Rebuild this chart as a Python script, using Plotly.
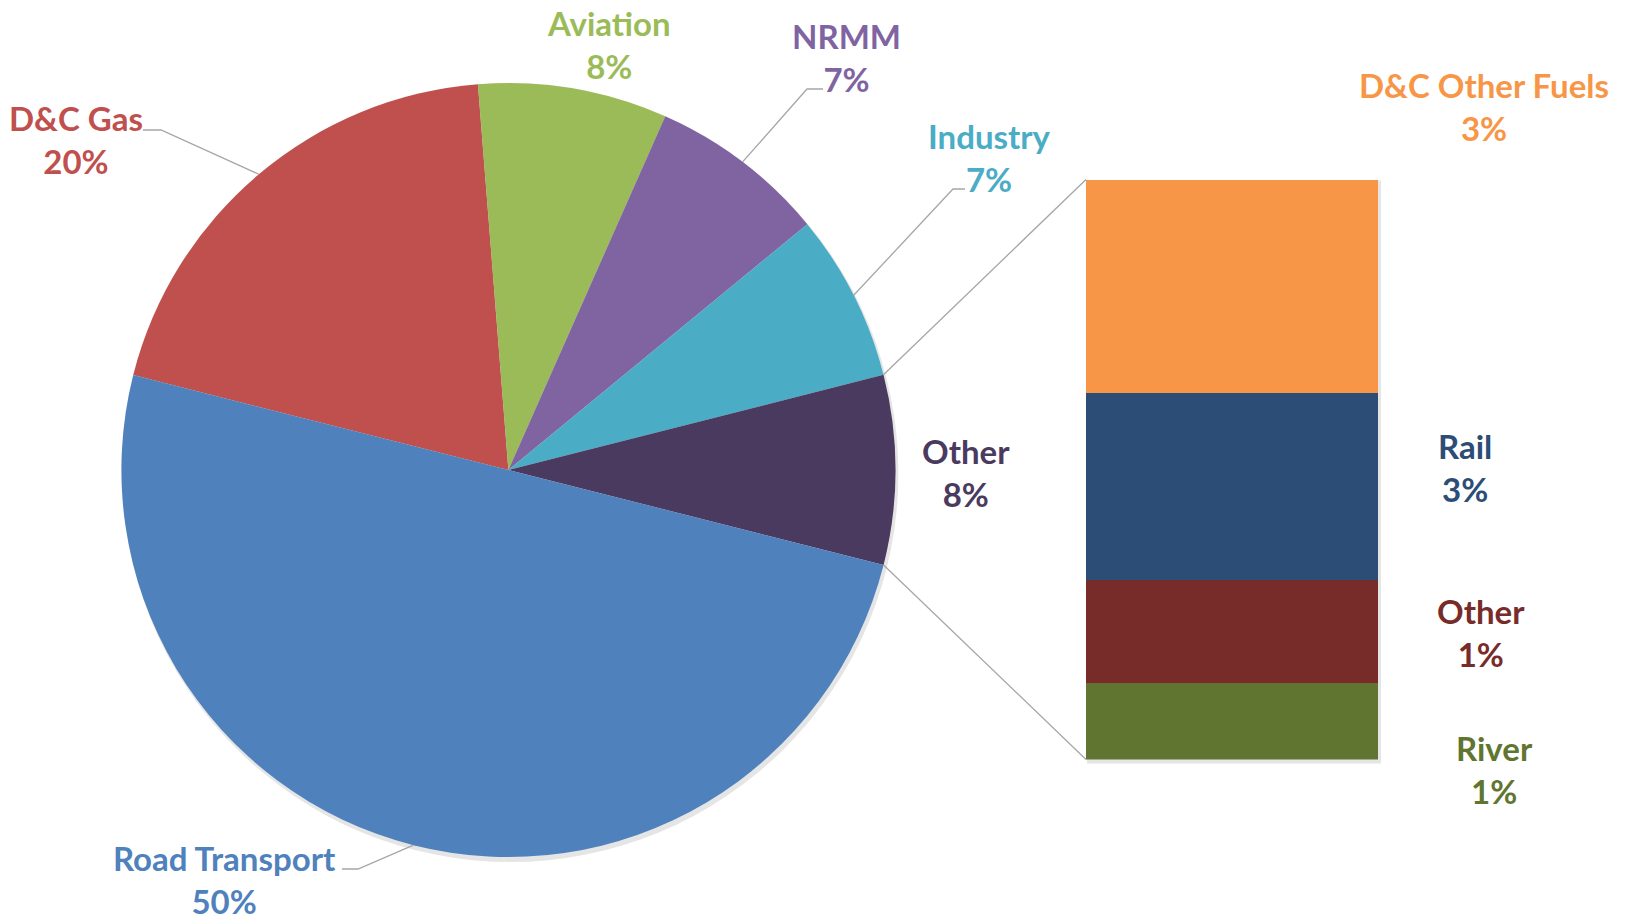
import math
import plotly.graph_objects as go

# ---------------- data ----------------
pie_labels = ["D&C Gas", "Aviation", "NRMM", "Industry", "Other", "Road Transport"]
pie_values = [19.8, 7.9, 7.4, 7.0, 7.9, 50.0]
pie_colors = ["#C0504D", "#9BBB59", "#8064A2", "#4BACC6", "#4B3A60", "#4F81BD"]

bar_labels = ["River", "Other", "Rail", "D&C Other Fuels"]          # bottom -> top
bar_values = [1.05, 1.4, 2.55, 2.9]
bar_colors = ["#5F7530", "#772C2A", "#2C4D75", "#F79646"]

# ---------------- layout constants (pixels) ----------------
W, H = 1627, 919
CX, CY, R = 508.4, 470.0, 387.0          # pie centre / radius
BX0, BX1, BY0, BY1 = 1086, 1378, 179.5, 759.5   # bar box
ROT = -75.8                              # start angle of first slice (clockwise from 12 o'clock)
FONT = "Lato"
FS = 33
LINE = "#A6A6A6"


def px(x):
    return x / W


def py(y):
    return 1 - y / H


total = sum(pie_values)
bar_total = sum(bar_values)


def pct(v, t):
    return f"{int(v / t * 100 + 0.5)}%"


def edge(angle_deg, r=R):
    a = math.radians(angle_deg)
    return CX + r * math.sin(a), CY - r * math.cos(a)


# cumulative angles of slices
starts, mids = [], []
acc = ROT
for v in pie_values:
    starts.append(acc)
    mids.append(acc + v / total * 180)
    acc += v / total * 360
ends = [s + v / total * 360 for s, v in zip(starts, pie_values)]

fig = go.Figure()

fig.add_trace(go.Pie(
    labels=pie_labels, values=pie_values, sort=False, direction="clockwise",
    rotation=ROT, marker=dict(colors=pie_colors, line=dict(width=0)),
    textinfo="none", hoverinfo="label+percent", showlegend=False,
    domain=dict(x=[px(CX - R), px(CX + R)], y=[py(CY + R), py(CY - R)]),
))

for lab, val, col in zip(bar_labels, bar_values, bar_colors):
    fig.add_trace(go.Bar(
        x=[0], y=[val], name=lab, marker=dict(color=col, line=dict(width=0)),
        width=1, showlegend=False, xaxis="x", yaxis="y",
    ))

shapes = []
# soft shadows
shapes.append(dict(type="circle", xref="paper", yref="paper",
                   x0=px(CX - R + 1), x1=px(CX + R + 3), y0=py(CY + R + 5), y1=py(CY - R + 2),
                   fillcolor="rgba(0,0,0,0.10)", line=dict(width=0), layer="below"))
shapes.append(dict(type="rect", xref="paper", yref="paper",
                   x0=px(BX0 + 1), x1=px(BX1 + 3), y0=py(BY1 + 4), y1=py(BY0 + 1),
                   fillcolor="rgba(0,0,0,0.10)", line=dict(width=0), layer="below"))

# connector lines from the "Other" slice to the bar
oi = pie_labels.index("Other")
p_top = edge(starts[oi])
p_bot = edge(ends[oi])
shapes.append(dict(type="line", xref="paper", yref="paper",
                   x0=px(p_top[0]), y0=py(p_top[1]), x1=px(BX0), y1=py(BY0),
                   line=dict(color=LINE, width=1.3)))
shapes.append(dict(type="line", xref="paper", yref="paper",
                   x0=px(p_bot[0]), y0=py(p_bot[1]), x1=px(BX0), y1=py(BY1),
                   line=dict(color=LINE, width=1.3)))

# pie labels: (centre x, centre y of two-line block, has leader, leader bend, leader end)
pie_label_pos = {
    "D&C Gas": (76, 139, True, (161, 130), (143, 130)),
    "Aviation": (609, 44, False, None, None),
    "NRMM": (846, 57, True, (807, 89), (823, 89)),
    "Industry": (990, 157, True, (953, 189), (965, 189)),
    "Other": (966, 472, False, None, None),
    "Road Transport": (224, 879, True, (358, 869), (342, 869)),
}

annotations = []
for i, lab in enumerate(pie_labels):
    x, y, lead, bend, end = pie_label_pos[lab]
    annotations.append(dict(
        x=px(x), y=py(y), xref="paper", yref="paper", showarrow=False,
        text=f"<b>{lab}<br>{pct(pie_values[i], total)}</b>",
        font=dict(family=FONT, size=FS, color=pie_colors[i]),
        xanchor="center", yanchor="middle", align="center",
    ))
    if lead:
        sx, sy = edge(mids[i])
        path = f"M {px(sx)},{py(sy)} L {px(bend[0])},{py(bend[1])} L {px(end[0])},{py(end[1])}"
        shapes.append(dict(type="path", xref="paper", yref="paper", path=path,
                           line=dict(color=LINE, width=1.3)))

bar_label_pos = {
    "D&C Other Fuels": (1484, 106),
    "Rail": (1465, 467),
    "Other": (1481, 632),
    "River": (1494, 769),
}
for lab, val, col in zip(bar_labels, bar_values, bar_colors):
    x, y = bar_label_pos[lab]
    annotations.append(dict(
        x=px(x), y=py(y), xref="paper", yref="paper", showarrow=False,
        text=f"<b>{lab}<br>{pct(val, total)}</b>",
        font=dict(family=FONT, size=FS, color=col),
        xanchor="center", yanchor="middle", align="center",
    ))

fig.update_layout(
    width=W, height=H, margin=dict(l=0, r=0, t=0, b=0),
    paper_bgcolor="white", plot_bgcolor="rgba(0,0,0,0)",
    barmode="stack", bargap=0,
    xaxis=dict(domain=[px(BX0), px(BX1)], range=[-0.5, 0.5], visible=False, fixedrange=True),
    yaxis=dict(domain=[py(BY1), py(BY0)], range=[0, bar_total], visible=False, fixedrange=True),
    shapes=shapes, annotations=annotations, font=dict(family=FONT),
)

fig.write_html(
    "out.html",
    config={"displayModeBar": False},
    post_script="document.body.style.margin='0';document.body.style.overflow='hidden';",
)
